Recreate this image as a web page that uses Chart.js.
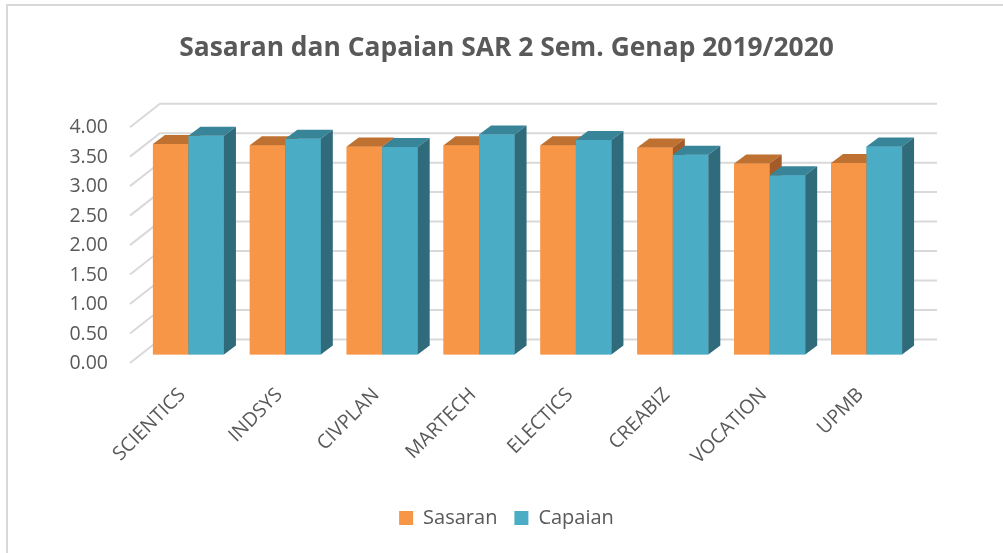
<!DOCTYPE html>
<html>
<head>
<meta charset="utf-8">
<script src="https://cdn.jsdelivr.net/npm/chart.js@4.4.1/dist/chart.umd.min.js"></script>
<style>
html,body{margin:0;padding:0;background:#fff;}
#wrap{width:1003px;height:553px;position:relative;}
</style>
</head>
<body>
<div id="wrap"><canvas id="c" width="1003" height="553"></canvas></div>
<script>
const categories = ['SCIENTICS','INDSYS','CIVPLAN','MARTECH','ELECTICS','CREABIZ','VOCATION','UPMB'];
const sasaran = [3.57,3.55,3.53,3.55,3.55,3.51,3.24,3.25];
const capaian = [3.71,3.66,3.52,3.73,3.64,3.39,3.04,3.53];
const yTicksMin = 0, yTicksMax = 4, yStep = 0.5;

const FONT = "'Open Sans', sans-serif";
const TXT = '#595959';
const faces = [
  {front:'#F79646', top:'#BF7131', side:'#A35C28'},
  {front:'#4BACC6', top:'#388498', side:'#306B7B'}
];
const DX = 12, DY = 9; // bar depth
const PADL = 10;

const threeD = {
  id:'threeD',
  beforeDraw(chart){
    const ctx = chart.ctx;
    ctx.save();
    ctx.strokeStyle = '#D9D9D9';
    ctx.lineWidth = 2;
    ctx.beginPath();
    ctx.moveTo(7, 553); ctx.lineTo(7, 5); ctx.lineTo(1003, 5);
    ctx.stroke();
    ctx.restore();
  },
  beforeDatasetsDraw(chart){
    const {ctx, chartArea:a, scales:{y}} = chart;
    ctx.save();
    ctx.strokeStyle = '#D9D9D9';
    ctx.lineWidth = 2;
    y.ticks.forEach(t => {
      const py = y.getPixelForValue(t.value);
      ctx.beginPath();
      ctx.moveTo(a.left - 10, py + 8.5);
      ctx.lineTo(a.left + 20, py - 15);
      ctx.lineTo(a.right + 22, py - 15);
      ctx.stroke();
    });
    ctx.restore();
  },
  afterDatasetsDraw(chart){
    const ctx = chart.ctx;
    ctx.save();
    const n = chart.data.labels.length;
    for (let i = 0; i < n; i++) {
      chart.data.datasets.forEach((ds, d) => {
        const el = chart.getDatasetMeta(d).data[i];
        const l = el.x - el.width/2, r = el.x + el.width/2, t = el.y, b = el.base;
        const c = faces[d];
        ctx.fillStyle = c.front;
        ctx.fillRect(l, t, r - l, b - t);
        ctx.fillStyle = c.top;
        ctx.beginPath();
        ctx.moveTo(l, t); ctx.lineTo(l + DX, t - DY); ctx.lineTo(r + DX, t - DY); ctx.lineTo(r, t);
        ctx.closePath(); ctx.fill();
        ctx.fillStyle = c.side;
        ctx.beginPath();
        ctx.moveTo(r, t); ctx.lineTo(r + DX, t - DY); ctx.lineTo(r + DX, b - DY); ctx.lineTo(r, b);
        ctx.closePath(); ctx.fill();
      });
    }
    ctx.restore();
  }
};

new Chart(document.getElementById('c'), {
  type:'bar',
  data:{
    labels: categories,
    datasets:[
      {label:'Sasaran', data:sasaran, backgroundColor:faces[0].front, categoryPercentage:0.733, barPercentage:1.0},
      {label:'Capaian', data:capaian, backgroundColor:faces[1].front, categoryPercentage:0.733, barPercentage:1.0}
    ]
  },
  options:{
    responsive:false,
    animation:false,
    layout:{padding:{left:PADL, right:0, top:0, bottom:15}},
    plugins:{
      title:{display:true, text:'Sasaran dan Capaian SAR 2 Sem. Genap 2019/2020',
        color:TXT, font:{family:FONT, size:26.4, weight:'bold'}, padding:{top:33, bottom:54}},
      legend:{position:'bottom',
        labels:{color:TXT, font:{family:FONT, size:20}, boxWidth:14, boxHeight:14, padding:17}},
      tooltip:{enabled:false}
    },
    scales:{
      y:{min:yTicksMin, max:yTicksMax,
        grid:{display:false, drawTicks:false}, border:{display:false},
        ticks:{stepSize:yStep, color:TXT, font:{family:FONT, size:19.5}, padding:32, labelOffset:9,
          callback:v => Number(v).toFixed(2)},
        afterFit:s => { s.width = 140 - PADL; }
      },
      yRight:{position:'right', display:true,
        grid:{display:false, drawTicks:false}, border:{display:false},
        ticks:{display:false},
        afterFit:s => { s.width = 88; }
      },
      x:{grid:{display:false, drawTicks:false}, border:{display:false},
        ticks:{color:TXT, font:{family:FONT, size:19.5}, maxRotation:45, minRotation:45, padding:29, labelOffset:-6, autoSkip:false},
        afterFit:s => { s.height = 136.5; }
      }
    }
  },
  plugins:[threeD]
});
</script>
</body>
</html>
